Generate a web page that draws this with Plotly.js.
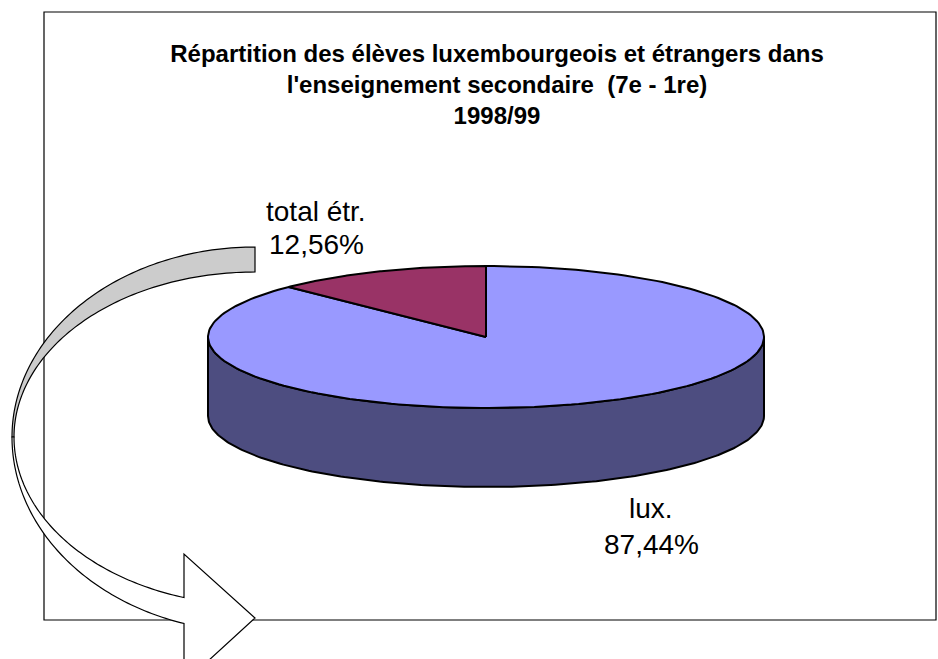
<!DOCTYPE html>
<html>
<head>
<meta charset="utf-8">
<script src="https://cdn.plot.ly/plotly-3.0.1.min.js"></script>
<style>html,body{margin:0;padding:0;background:#fff;}#chart{width:938px;height:659px;}</style>
</head>
<body>
<div id="chart"></div>
<script>
// ---- data ----
const labels = ['lux.', 'total étr.'];
const values = [87.44, 12.56];
const topColors = ['#9999FF', '#993366'];
const sideColors = ['#4D4D80', '#4D1A33'];
const titleLines = [
  'Répartition des élèves luxembourgeois et étrangers dans',
  "l'enseignement secondaire \u00a0(7e - 1re)",
  '1998/99'
];

// ---- geometry (pixel-unit axes) ----
const W = 938, H = 659;
const cx = 486, cy = 337, rx = 278, ry = 71, depth = 79;
const N = 200;
function pt(theta, dy) { return [cx + rx * Math.sin(theta), cy - ry * Math.cos(theta) + (dy || 0)]; }

const total = values.reduce((a, b) => a + b, 0);
const traces = [];
const tops = [];
let cum = 0;
values.forEach((v, i) => {
  const a0 = 2 * Math.PI * cum / total;
  const a1 = 2 * Math.PI * (cum + v) / total;
  cum += v;
  // side (front half visible: pi/2 .. 3pi/2)
  const s0 = Math.max(a0, Math.PI / 2), s1 = Math.min(a1, 3 * Math.PI / 2);
  if (s1 > s0) {
    const xs = [], ys = [];
    for (let k = 0; k <= N; k++) { const t = s0 + (s1 - s0) * k / N; const p = pt(t); xs.push(p[0]); ys.push(p[1]); }
    for (let k = N; k >= 0; k--) { const t = s0 + (s1 - s0) * k / N; const p = pt(t, depth); xs.push(p[0]); ys.push(p[1]); }
    xs.push(xs[0]); ys.push(ys[0]);
    traces.push({type: 'scatter', mode: 'lines', x: xs, y: ys, fill: 'toself', fillcolor: sideColors[i],
      line: {color: '#000', width: 2}, hoverinfo: 'skip', showlegend: false});
  }
  const xs = [cx], ys = [cy];
  for (let k = 0; k <= N; k++) { const t = a0 + (a1 - a0) * k / N; const p = pt(t); xs.push(p[0]); ys.push(p[1]); }
  xs.push(cx); ys.push(cy);
  tops.push({type: 'scatter', mode: 'lines', x: xs, y: ys, fill: 'toself', fillcolor: topColors[i],
    line: {color: '#000', width: 2}, hoverinfo: 'skip', showlegend: false, name: labels[i]});
});
traces.push(...tops);

// ---- labels ----
const fmt = v => v.toFixed(2).replace('.', ',') + '%';
const labelPos = [{x: 651, y1: 508, y2: 544}, {x: 316, y1: 211, y2: 244}];
const annotations = [];
labels.forEach((l, i) => {
  const f = {family: 'Liberation Sans, Arial, sans-serif', size: 28, color: '#000'};
  annotations.push({x: labelPos[i].x, y: labelPos[i].y1, xref: 'x', yref: 'y', text: l, showarrow: false, font: f, xanchor: 'center', yanchor: 'middle'});
  annotations.push({x: labelPos[i].x, y: labelPos[i].y2, xref: 'x', yref: 'y', text: fmt(values[i]), showarrow: false, font: f, xanchor: 'center', yanchor: 'middle'});
});

// ---- decorative curved arrow ----
function ell(ex, ey, erx, ery, t) { return [ex - erx * Math.sin(t), ey - ery * Math.cos(t)]; }
function arc(ex, ey, erx, ery, t0, t1, n) {
  const out = [];
  for (let k = 0; k <= n; k++) { const t = t0 + (t1 - t0) * k / n; out.push(ell(ex, ey, erx, ery, t)); }
  return out;
}
function pathOf(pts, start) {
  return pts.map((p, k) => ((k === 0 && start) ? 'M' : 'L') + p[0].toFixed(2) + ',' + p[1].toFixed(2)).join(' ');
}
const acx = 255, acy = 437;
const grayOuter = arc(acx, acy, 243, 190, 0, Math.PI / 2, 80);
const grayInner = arc(acx, acy, 241, 165, Math.PI / 2, 0, 80);
const grayPath = pathOf(grayOuter, true) + ' ' + pathOf(grayInner, false) + ' Z';
const tEo = Math.PI - Math.asin((acx - 184) / 243);
const tEi = Math.PI - Math.asin((acx - 184) / 241);
const whiteOuter = arc(acx, acy, 243, 195, Math.PI / 2, tEo, 80);
const whiteInner = arc(acx, acy, 241, 168, tEi, Math.PI / 2, 80);
const whitePath = pathOf(whiteOuter, true) + ' L184,683 L255,618 L184,554 ' + pathOf(whiteInner, false) + ' Z';

const shapes = [
  {type: 'rect', xref: 'x', yref: 'y', x0: 44, y0: 12, x1: 936, y1: 620, line: {color: '#000', width: 1.2}, fillcolor: 'rgba(0,0,0,0)', layer: 'below'},
  {type: 'path', xref: 'x', yref: 'y', path: grayPath, fillcolor: '#CCCCCC', line: {color: '#000', width: 1.2}},
  {type: 'path', xref: 'x', yref: 'y', path: whitePath, fillcolor: '#FFFFFF', line: {color: '#000', width: 1.2}}
];

const layout = {
  width: W, height: H,
  margin: {l: 0, r: 0, t: 0, b: 0, pad: 0},
  paper_bgcolor: '#fff', plot_bgcolor: 'rgba(0,0,0,0)',
  showlegend: false,
  title: {
    text: titleLines.map(s => '<b>' + s + '</b>').join('<br>'),
    font: {family: 'Liberation Sans, Arial, sans-serif', size: 24, color: '#000'},
    x: 497 / W, xanchor: 'center', xref: 'paper',
    y: 1 - 62 / H, yanchor: 'top', yref: 'container'
  },
  xaxis: {range: [0, W], visible: false, fixedrange: true},
  yaxis: {range: [H, 0], visible: false, fixedrange: true},
  shapes: shapes,
  annotations: annotations
};

Plotly.newPlot('chart', traces, layout, {displayModeBar: false, staticPlot: true});
</script>
</body>
</html>
